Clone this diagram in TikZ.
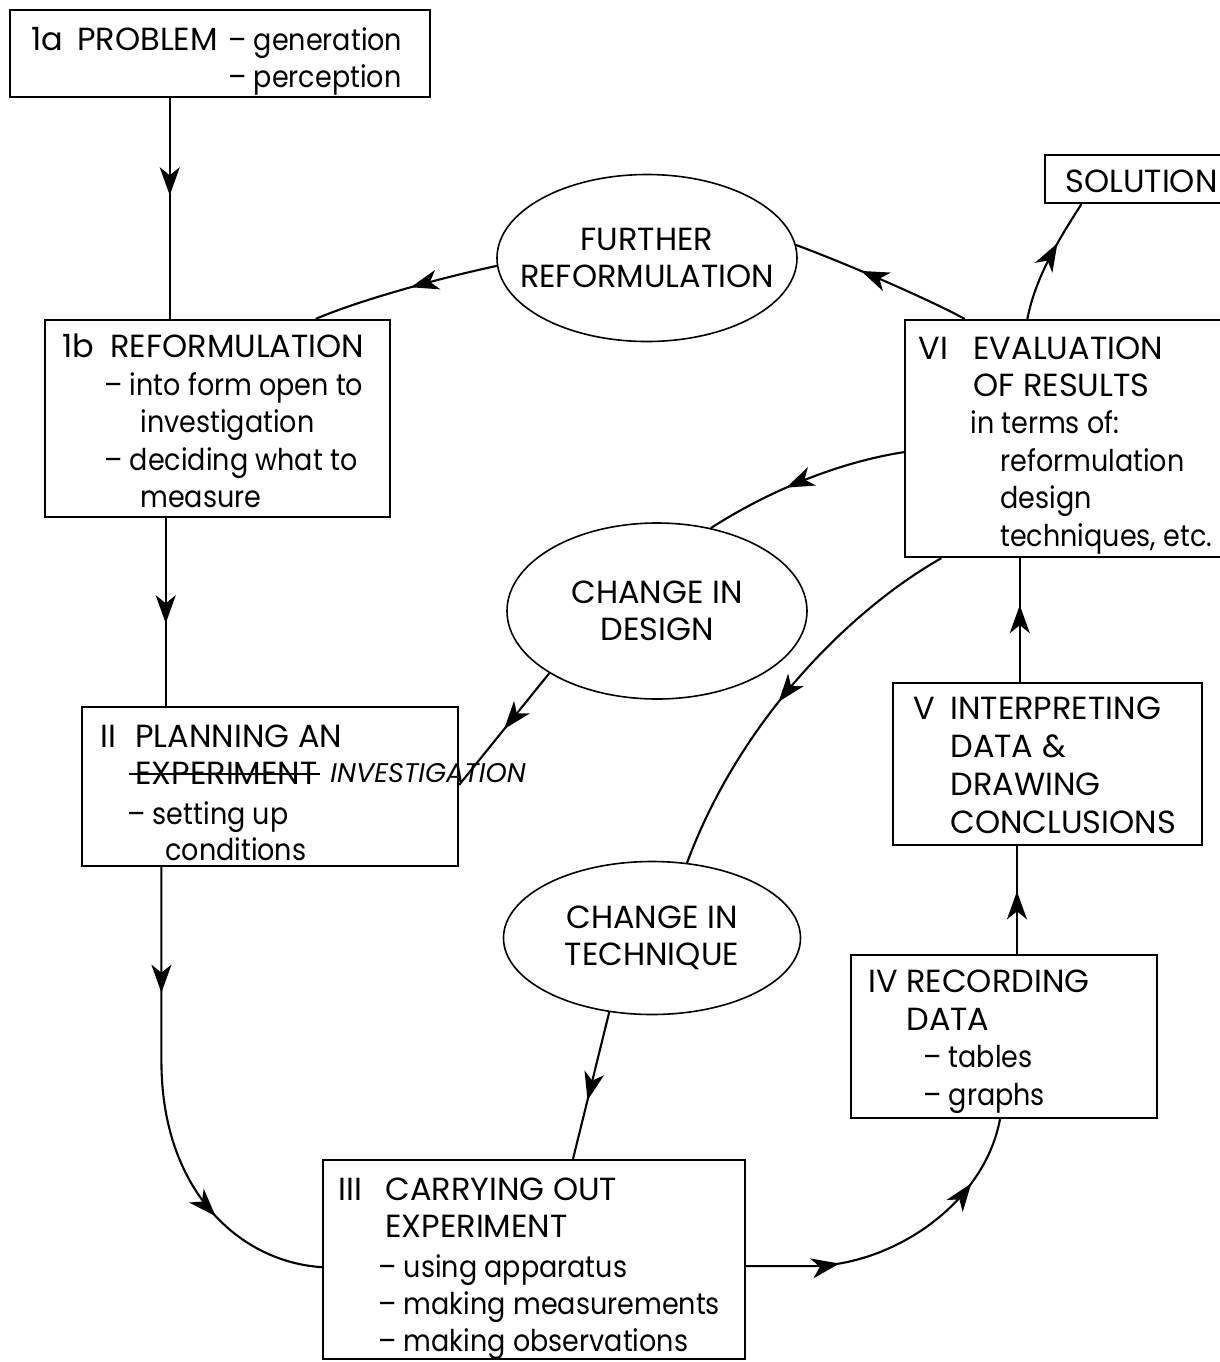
\documentclass[tikz,border=0pt]{standalone}
\usepackage{fontspec}
\setmainfont{Poppins}
\newfontfamily\capsfont{Poppins}
\newfontfamily\lowfont{Poppins}[FakeStretch=0.9]
\newfontfamily\handfont{Poppins}
\usetikzlibrary{arrows.meta,decorations.markings,calc,shapes.geometric,fit}

\tikzset{
  box/.style={draw, line width=1.15pt, inner sep=0pt},
  oval/.style={draw, ellipse, line width=0.8pt, inner sep=0pt},
  lbl/.style={anchor=base west, inner sep=0pt, font=\capsfont\fontsize{16}{18.5}\selectfont},
  low/.style={anchor=base west, inner sep=0pt, font=\lowfont\fontsize{15}{18.5}\selectfont},
  ctr/.style={inner sep=0pt, align=center, font=\capsfont\fontsize{16}{18.5}\selectfont},
  hand/.style={anchor=base west, inner sep=0pt, font=\handfont\fontsize{13.5}{15}\selectfont\itshape},
  flow/.style={line width=1.05pt},
  tipat/.style={postaction={decorate}, decoration={markings,
      mark=at position #1 with {\arrow{Stealth[length=14pt,width=10pt,inset=4pt]}}}},
  tiptwo/.style 2 args={postaction={decorate}, decoration={markings,
      mark=at position #1 with {\arrow{Stealth[length=14pt,width=10pt,inset=4pt]}},
      mark=at position #2 with {\arrow{Stealth[length=14pt,width=10pt,inset=4pt]}}}},
}

\begin{document}
\begin{tikzpicture}[x=0.5pt,y=-0.5pt]
\path[use as bounding box, fill=white] (0,0) rectangle (1220,1362);

% ---------- boxes ----------
\node[box, fit={(10,10) (430,97)}]      (b1a) {};
\node[box, fit={(45,320) (390,517)}]    (b1b) {};
\node[box, fit={(82,707) (458,866)}]    (b2)  {};
\node[box, fit={(323,1160) (745,1359)}] (b3)  {};
\node[box, fit={(851,955) (1157,1118)}] (b4)  {};
\node[box, fit={(893,683) (1202,845)}]  (b5)  {};
\node[box, fit={(905,320) (1226,557)}]  (b6)  {};
\node[box, fit={(1045,155) (1226,203)}] (bsol) {};

% ---------- ellipses ----------
\node[oval, minimum width=150pt, minimum height=83.5pt] (e1) at (647,258) {};
\node[oval, minimum width=150pt, minimum height=88pt]   (e2) at (657,611) {};
\node[oval, minimum width=148.5pt, minimum height=76.5pt] (e3) at (652,938) {};
\node[ctr] (e1t) at (e1) {FURTHER\\REFORMULATION};
\node[ctr] (e2t) at (e2) {CHANGE IN\\DESIGN};
\node[ctr] (e3t) at (e3) {CHANGE IN\\TECHNIQUE};

% ---------- box texts ----------
% 1a
\node[lbl] (t1a0) at (31,50)  {1a};
\node[lbl] (t1a1) at (77,50)  {PROBLEM};
\node[low] (t1a2) at (228,50) {– generation};
\node[low] (t1a3) at (228,87) {– perception};
% 1b
\node[lbl] (t1b0) at (62,357)  {1b};
\node[lbl] (t1b1) at (110,357) {REFORMULATION};
\node[low] (t1b2) at (104,395) {– into form open to};
\node[low] (t1b3) at (140,432) {investigation};
\node[low] (t1b4) at (104,470) {– deciding what to};
\node[low] (t1b5) at (140,507) {measure};
% II
\node[lbl] (t20) at (100,747) {II};
\node[lbl] (t21) at (135,747) {PLANNING AN};
\node[lbl] (t22) at (135,784) {EXPERIMENT};
\node[hand] (t2h) at (330,782) {INVESTIGATION};
\node[low] (t23) at (127,824) {– setting up};
\node[low] (t24) at (165,860) {conditions};
\draw[line width=0.9pt] ($(t22.west)+(-6,1)$) -- ($(t22.east)+(2,1)$);
% III
\node[lbl] (t30) at (338,1200) {III};
\node[lbl] (t31) at (385,1200) {CARRYING OUT};
\node[lbl] (t32) at (385,1237) {EXPERIMENT};
\node[low] (t33) at (378,1277) {– using apparatus};
\node[low] (t34) at (378,1314) {– making measurements};
\node[low] (t35) at (378,1351) {– making observations};
% IV
\node[lbl] (t40) at (868,992)  {IV};
\node[lbl] (t41) at (906,992)  {RECORDING};
\node[lbl] (t42) at (906,1030) {DATA};
\node[low] (t43) at (923,1067) {– tables};
\node[low] (t44) at (923,1105) {– graphs};
% V
\node[lbl] (t50) at (913,719) {V};
\node[lbl] (t51) at (950,719) {INTERPRETING};
\node[lbl] (t52) at (950,757) {DATA \&};
\node[lbl] (t53) at (950,795) {DRAWING};
\node[lbl] (t54) at (950,833) {CONCLUSIONS};
% VI
\node[lbl] (t60) at (918,359)  {VI};
\node[lbl] (t61) at (973,359)  {EVALUATION};
\node[lbl] (t62) at (973,396)  {OF RESULTS};
\node[low] (t63) at (970,433)  {in terms of:};
\node[low] (t64) at (1000,471) {reformulation};
\node[low] (t65) at (1000,508) {design};
\node[low] (t66) at (1000,546) {techniques, etc.};
% solution
\node[lbl] (tsol) at (1065,192) {SOLUTION};

% ---------- attachment points ----------
\coordinate (c1)  at ($(b1a.south west)!0.381!(b1a.south east)$);
\coordinate (c2)  at ($(b1b.south west)!0.351!(b1b.south east)$);
\coordinate (c3)  at ($(b2.south west)!0.213!(b2.south east)$);
\coordinate (c3e) at ($(b3.north west)!0.538!(b3.south west)$);
\coordinate (c4)  at ($(b3.north east)!0.533!(b3.south east)$);
\coordinate (c4e) at ($(b4.south west)!0.487!(b4.south east)$);
\coordinate (c5)  at ($(b4.north west)!0.542!(b4.north east)$);
\coordinate (c6)  at ($(b5.north west)!0.411!(b5.north east)$);
\coordinate (cs)  at ($(b6.north west)!0.382!(b6.north east)$);
\coordinate (cse) at ($(bsol.south west)!0.205!(bsol.south east)$);
\coordinate (cf)  at ($(b6.north west)!0.188!(b6.north east)$);
\coordinate (cfe) at ($(b1b.north west)!0.783!(b1b.north east)$);
\coordinate (cd)  at ($(b6.north west)!0.557!(b6.south west)$);
\coordinate (cde) at ($(b2.north east)!0.49!(b2.south east)$);
\coordinate (ct)  at ($(b6.south west)!0.116!(b6.south east)$);
\coordinate (cte) at ($(b3.north west)!0.592!(b3.north east)$);

% ---------- main cycle ----------
\draw[flow, tipat=0.44] (c1) -- (c1 |- b1b.north);
\draw[flow, tipat=0.56] (c2) -- (c2 |- b2.north);
\draw[flow, tiptwo={0.26}{0.75}] (c3) -- ($(c3)+(0,194)$)
   .. controls ($(c3)+(0,324)$) and (240,1262) .. (c3e);
\draw[flow, tiptwo={0.29}{0.78}] (c4) -- ($(c4)+(70,0)$)
   .. controls (900,1262) and (985,1200) .. (c4e);
\draw[flow, tipat=0.58] (c5) -- (c5 |- b5.south);
\draw[flow, tipat=0.62] (c6) -- (c6 |- b6.south);
\draw[flow, tipat=0.64] (cs) .. controls (1035,280) and (1055,245) .. (cse);

% ---------- feedback loops ----------
\draw[flow, tipat=0.62] (cf) .. controls (930,300) and (850,265) .. (e1.5);
\draw[flow, tipat=0.47] (e1.183) .. controls (440,278) and (360,300) .. (cfe);
\draw[flow, tipat=0.59] (cd) .. controls (840,462) and (770,490) .. (e2.57);
\draw[flow, tipat=0.5]  (e2.210) -- (cde);
\draw[flow, tipat=0.54] (ct) .. controls (850,610) and (740,720) .. (e3.65);
\draw[flow, tipat=0.6]  (e3.240) -- (cte);
\end{tikzpicture}
\end{document}
